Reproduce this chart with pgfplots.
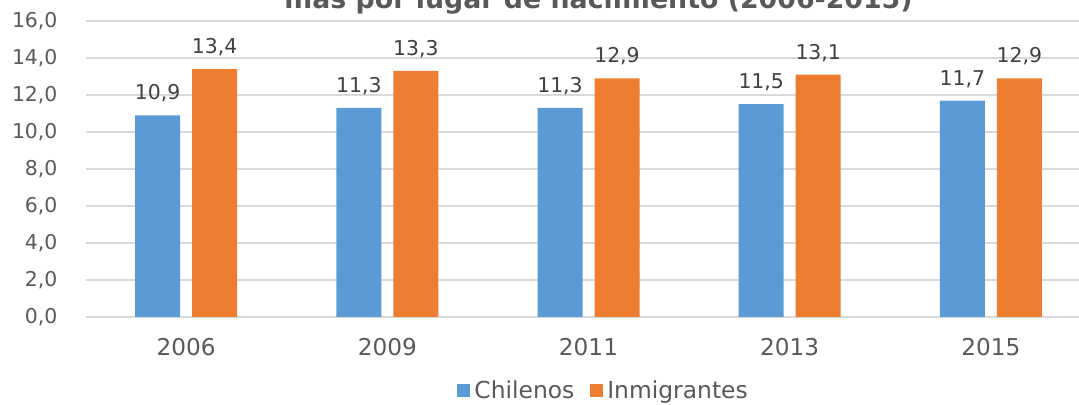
\documentclass[border=0pt]{standalone}
\usepackage{fontspec}
\setmainfont{DejaVu Sans}
\usepackage{pgfplots}
\pgfplotsset{compat=1.18}
\definecolor{cblue}{HTML}{5B9BD5}
\definecolor{corange}{HTML}{ED7D31}
\definecolor{tgray}{HTML}{595959}
\definecolor{lgray}{HTML}{404040}
\definecolor{ggray}{HTML}{D9D9D9}
\begin{document}
\begin{tikzpicture}
\path[use as bounding box] (0,0) rectangle (539.5pt,202.5pt);
\clip (0,0) rectangle (539.5pt,202.5pt);
\node[anchor=base, font=\bfseries\fontsize{13.4}{16}\selectfont, text=tgray, inner sep=0pt] at (299.25pt,198.25pt) {más por lugar de nacimiento (2006-2015)};
\begin{axis}[
  at={(42.75pt,44pt)}, anchor=south west,
  scale only axis, width=503pt, height=148pt,
  ybar=6pt, bar width=22.5pt,
  xmin=-0.5, xmax=4.5, ymin=0, ymax=16,
  xtick={0,1,2,3,4}, xticklabels={2006,2009,2011,2013,2015},
  ytick={0,2,4,6,8,10,12,14,16},
  /pgf/number format/.cd, fixed, fixed zerofill, precision=1, use comma, assume math mode=true,
  /pgfplots/.cd,
  axis line style={draw=none},
  major tick length=0pt,
  ymajorgrids, grid style={ggray, line width=1pt},
  yticklabel style={font=\fontsize{10.2}{12}\selectfont, text=tgray, xshift=-10.5pt},
  xticklabel style={font=\fontsize{11.6}{14}\selectfont, text=tgray, yshift=-7pt},
  nodes near coords,
  every node near coord/.append style={font=\fontsize{10.2}{12}\selectfont, text=lgray, yshift=3pt},
  legend style={at={(0.516,-0.25)}, anchor=center, draw=none, fill=none,
    font=\fontsize{11.7}{14}\selectfont, text=tgray, legend columns=2,
    /tikz/every even column/.append style={column sep=6pt}},
  legend image code/.code={\fill[#1] (0pt,-3.25pt) rectangle (6.5pt,3.25pt);},
]
\addplot[fill=cblue, draw=none]
  coordinates {(0,10.9) (1,11.3) (2,11.3) (3,11.5) (4,11.7)};
\addlegendentry{Chilenos}
\addplot[fill=corange, draw=none]
  coordinates {(0,13.4) (1,13.3) (2,12.9) (3,13.1) (4,12.9)};
\addlegendentry{Inmigrantes}
\end{axis}
\end{tikzpicture}
\end{document}
